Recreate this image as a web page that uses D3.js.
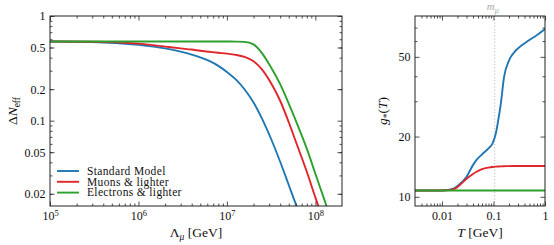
<!DOCTYPE html>
<html>
<head>
<meta charset="utf-8">
<script src="https://cdn.jsdelivr.net/npm/d3@7"></script>
<style>
  body { margin: 0; background: #fff; }
  svg text { font-family: "Liberation Serif", "Times New Roman", serif; fill: #111; }
</style>
</head>
<body>
<svg id="chart" width="554" height="245" font-family="Liberation Serif, serif"></svg>
<script>
// ---- left panel data: Delta N_eff vs Lambda_mu ----
var lambda = [1e5, 3e5, 1e6, 2e6, 3e6, 4e6, 5e6, 6.3e6, 8e6, 1e7, 1.26e7, 1.58e7, 2e7, 2.5e7, 3.16e7, 4e7, 5e7, 6.3e7, 8e7, 1e8, 1.26e8, 1.58e8, 2e8];
var dnStandard = [0.57, 0.565, 0.53, 0.49, 0.456, 0.428, 0.403, 0.372, 0.334, 0.292, 0.248, 0.1995, 0.149, 0.104, 0.0668, 0.0405, 0.0243, 0.0143, 0.0085, null, null, null, null];
var dnMuons    = [0.57, 0.567, 0.545, 0.51, 0.49, 0.478, 0.465, 0.455, 0.445, 0.437, 0.425, 0.406, 0.37, 0.308, 0.228, 0.155, 0.0965, 0.0566, 0.0325, 0.0185, 0.0105, null, null];
var dnElectrons = [0.57, 0.57, 0.57, 0.57, 0.57, 0.57, 0.57, 0.57, 0.57, 0.57, 0.569, 0.566, 0.535, 0.44, 0.322, 0.223, 0.1455, 0.0908, 0.054, 0.0311, 0.0177, 0.01, null];
var lambdaTicks = [1e5, 1e6, 1e7, 1e8];
var dnTicks = [1, 0.5, 0.2, 0.1, 0.05, 0.02];
var dnTickLabels = ["1", "0.5", "0.2", "0.1", "0.05", "0.02"];

// ---- right panel data: g_*(T) ----
var temp = [0.003, 0.01, 0.014, 0.018, 0.022, 0.03, 0.04, 0.046, 0.06, 0.08, 0.096, 0.111, 0.125, 0.139, 0.16, 0.2, 0.27, 0.35, 0.48, 0.7, 1.0];
var gStandard = [10.75, 10.76, 10.85, 11.1, 11.55, 12.6, 14.4, 15.2, 16.3, 17.45, 18.5, 20.7, 24.5, 29.2, 39.5, 47.9, 53.7, 57.0, 60.3, 64.3, 68.9];
var gMuons    = [10.75, 10.76, 10.82, 11.0, 11.43, 12.3, 13.0, 13.3, 13.75, 14.0, 14.1, 14.15, 14.18, 14.2, 14.22, 14.24, 14.25, 14.25, 14.25, 14.25, 14.25];
var gElectrons = [10.75, 10.75, 10.75, 10.75, 10.75, 10.75, 10.75, 10.75, 10.75, 10.75, 10.75, 10.75, 10.75, 10.75, 10.75, 10.75, 10.75, 10.75, 10.75, 10.75, 10.75];
var tTicks = [0.01, 0.1, 1];
var tTickLabels = ["0.01", "0.1", "1"];
var gTicks = [10, 20, 50];
var gMinor = [30, 40, 60, 70];
var muonMass = 0.1057;

var seriesNames = ["Standard Model", "Muons & lighter", "Electrons & lighter"];
var colors = ["#1f77b4", "#e0262b", "#2ca02c"];

var svg = d3.select("#chart");

function logMinors(lo, hi) {
    var out = [];
    for (var e = Math.floor(Math.log10(lo)); e <= Math.ceil(Math.log10(hi)); e++) {
        for (var m = 2; m <= 9; m++) {
            var v = m * Math.pow(10, e);
            if (v > lo && v < hi) out.push(v);
        }
    }
    return out;
}

// frame + inward ticks on all four sides
function drawAxes(g, x, y, xMajor, yMajor, xMinor, yMinor) {
    var r = x.range(), h = y.range();
    var W = r[1] - r[0], H = h[0] - h[1];
    var sides = [
        { ax: d3.axisBottom, sc: x, tr: "translate(0," + h[0] + ")" },
        { ax: d3.axisTop, sc: x, tr: "translate(0," + h[1] + ")" },
        { ax: d3.axisLeft, sc: y, tr: "translate(" + r[0] + ",0)" },
        { ax: d3.axisRight, sc: y, tr: "translate(" + r[1] + ",0)" }
    ];
    sides.forEach(function(s, i) {
        var isX = i < 2;
        var major = g.append("g").attr("class", "axis").attr("transform", s.tr)
            .call(s.ax(s.sc).tickValues(isX ? xMajor : yMajor).tickSize(-4.5).tickPadding(isX ? 5.5 : 4.5).tickFormat(""));
        var minor = g.append("g").attr("class", "axis").attr("transform", s.tr)
            .call(s.ax(s.sc).tickValues(isX ? xMinor : yMinor).tickSize(-2.5).tickFormat(""));
        major.attr("font-family", null);
        minor.attr("font-family", null);
        major.select(".domain").remove();
        minor.select(".domain").remove();
        g.selectAll(".axis line").attr("stroke", "#222").attr("stroke-width", 0.8);
        if (i == 0) major.attr("class", "axis xlab");
        if (i == 2) major.attr("class", "axis ylab");
    });
    g.append("rect")
        .attr("x", r[0]).attr("y", h[1])
        .attr("width", W).attr("height", H)
        .attr("fill", "none").attr("stroke", "#222").attr("stroke-width", 1);
}

function drawLines(g, x, y, xs, series, clipId) {
    var r = x.range(), h = y.range();
    g.append("clipPath").attr("id", clipId).append("rect")
        .attr("x", r[0]).attr("y", h[1]).attr("width", r[1] - r[0]).attr("height", h[0] - h[1]);
    var line = d3.line()
        .defined(function(d) { return d[1] != null; })
        .x(function(d) { return x(d[0]); })
        .y(function(d) { return y(d[1]); })
        .curve(d3.curveMonotoneX);
    series.forEach(function(vals, i) {
        g.append("path")
            .datum(xs.map(function(v, k) { return [v, vals[k]]; }))
            .attr("clip-path", "url(#" + clipId + ")")
            .attr("fill", "none")
            .attr("stroke", colors[i])
            .attr("stroke-width", 1.9)
            .attr("d", line);
    });
}

// ---------- left panel ----------
var xL = d3.scaleLog().domain([1e5, 2e8]).range([50, 342]);
var yL = d3.scaleLog().domain([0.0153, 1]).range([206, 16]);
var left = svg.append("g");

drawLines(left, xL, yL, lambda, [dnStandard, dnMuons, dnElectrons], "clipL");
drawAxes(left, xL, yL, lambdaTicks, dnTicks, logMinors(1e5, 2e8), logMinors(0.0153, 1));

left.select(".xlab").selectAll(".tick text").each(function(d) {
    var t = d3.select(this).attr("font-size", 12).attr("fill", "#111").text("10");
    t.append("tspan").attr("dy", "-0.45em").attr("font-size", 8.5).text(Math.round(Math.log10(d)));
});
left.select(".ylab").selectAll(".tick text").each(function(d, i) {
    d3.select(this).attr("font-size", 12).attr("fill", "#111").text(dnTickLabels[dnTicks.indexOf(d)]);
});

// legend
var legend = left.append("g").attr("transform", "translate(57,171)");
seriesNames.forEach(function(name, i) {
    var row = legend.append("g").attr("transform", "translate(0," + (i * 10.8) + ")");
    row.append("line").attr("x1", 0).attr("x2", 22).attr("stroke", colors[i]).attr("stroke-width", 1.9);
    row.append("text").attr("x", 30).attr("y", 3.8).attr("font-size", 11.5).attr("letter-spacing", 0.35).text(name);
});

// axis titles
var xtL = left.append("text").attr("x", 196).attr("y", 237).attr("text-anchor", "middle").attr("font-size", 13.5);
xtL.append("tspan").text("Λ");
xtL.append("tspan").attr("font-style", "italic").attr("font-size", 9.5).attr("dy", 3).text("μ");
xtL.append("tspan").attr("dy", -3).text(" [GeV]");

var ytL = left.append("text").attr("transform", "translate(17,111) rotate(-90)").attr("text-anchor", "middle").attr("font-size", 13.5);
ytL.append("tspan").text("Δ");
ytL.append("tspan").attr("font-style", "italic").text("N");
ytL.append("tspan").attr("font-size", 9.5).attr("dy", 3).text("eff");

// ---------- right panel ----------
var xR = d3.scaleLog().domain([0.003, 1]).range([415, 545]);
var yR = d3.scaleLog().domain([9, 80]).range([206, 16]);
var right = svg.append("g");

right.append("line")
    .attr("x1", xR(muonMass)).attr("x2", xR(muonMass))
    .attr("y1", yR.range()[1]).attr("y2", yR.range()[0])
    .attr("stroke", "#bbb").attr("stroke-width", 1).attr("stroke-dasharray", "1.2,2");

drawLines(right, xR, yR, temp, [gStandard, gMuons, gElectrons], "clipR");
drawAxes(right, xR, yR, tTicks, gTicks, logMinors(0.003, 1), gMinor);

right.select(".xlab").selectAll(".tick text").each(function(d) {
    d3.select(this).attr("font-size", 12).attr("fill", "#111").text(tTickLabels[tTicks.indexOf(d)]);
});
right.select(".ylab").selectAll(".tick text").each(function(d) {
    d3.select(this).attr("font-size", 12).attr("fill", "#111").text(d);
});

var mlab = right.append("text").attr("x", xR(muonMass) - 2).attr("y", 10).attr("text-anchor", "middle")
    .attr("font-size", 11).style("fill", "#aaa");
mlab.append("tspan").attr("font-style", "italic").text("m");
mlab.append("tspan").attr("font-style", "italic").attr("font-size", 8).attr("dy", 2.5).text("μ");

var xtR = right.append("text").attr("x", 480).attr("y", 237).attr("text-anchor", "middle").attr("font-size", 13.5);
xtR.append("tspan").attr("font-style", "italic").text("T");
xtR.append("tspan").text(" [GeV]");

var ytR = right.append("text").attr("transform", "translate(387,111) rotate(-90)").attr("text-anchor", "middle").attr("font-size", 13.5);
ytR.append("tspan").attr("font-style", "italic").text("g");
ytR.append("tspan").attr("font-size", 9.5).attr("dy", 3).text("*");
ytR.append("tspan").attr("dy", -3).text("(");
ytR.append("tspan").attr("font-style", "italic").text("T");
ytR.append("tspan").text(")");
</script>
</body>
</html>
